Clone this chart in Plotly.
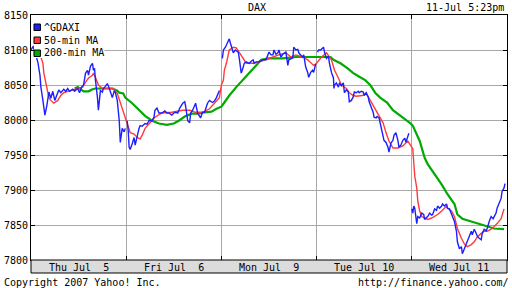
import math
import plotly.graph_objects as go

# x is measured in trading days (0 = Thu Jul 5 open, 5 = Wed Jul 11 close)
day_labels = ["Thu Jul\u00a0\u00a05", "Fri Jul\u00a0\u00a06", "Mon Jul\u00a0\u00a09", "Tue Jul 10", "Wed Jul 11"]
y_ticks = [7800, 7850, 7900, 7950, 8000, 8050, 8100, 8150]

blue_t = [0.000, 0.021, 0.042, 0.073, 0.094, 0.104, 0.125, 0.146, 0.167, 0.177, 0.188, 0.208, 0.229, 0.250,
          0.271, 0.292, 0.313, 0.344, 0.365, 0.385, 0.406, 0.438, 0.458, 0.490, 0.510, 0.531, 0.552, 0.573,
          0.594, 0.604, 0.625, 0.646, 0.656, 0.667, 0.677, 0.688, 0.698, 0.708, 0.719, 0.729, 0.750, 0.760,
          0.781, 0.802, 0.823, 0.833, 0.854, 0.875, 0.885, 0.906, 0.917, 0.927, 0.938, 0.948, 0.958, 0.979,
          0.990,
          1.010, 1.021, 1.031, 1.042, 1.063, 1.083, 1.094, 1.115, 1.135, 1.146, 1.167, 1.198, 1.219, 1.240,
          1.271, 1.292, 1.302, 1.323, 1.344, 1.375, 1.406, 1.427, 1.448, 1.479, 1.510, 1.542, 1.563, 1.594,
          1.615, 1.625, 1.646, 1.667, 1.677, 1.698, 1.719, 1.729, 1.750, 1.771, 1.781, 1.802, 1.823, 1.854,
          1.875, 1.906, 1.927, 1.948, 1.969, 1.979,
          2.010, 2.021, 2.042, 2.052, 2.073, 2.083, 2.094, 2.104, 2.125, 2.146, 2.177, 2.188, 2.198, 2.208,
          2.219, 2.240, 2.260, 2.292, 2.313, 2.333, 2.344, 2.365, 2.396, 2.417, 2.438, 2.469, 2.490, 2.500,
          2.521, 2.542, 2.552, 2.573, 2.594, 2.604, 2.625, 2.646, 2.677, 2.698, 2.708, 2.729, 2.750, 2.760,
          2.781, 2.802, 2.813, 2.833, 2.854, 2.865, 2.885, 2.906, 2.917, 2.938, 2.958, 2.969, 2.990,
          3.010, 3.021, 3.042, 3.063, 3.073, 3.083, 3.104, 3.125, 3.135, 3.156, 3.177, 3.182, 3.188, 3.208,
          3.229, 3.240, 3.260, 3.281, 3.292, 3.313, 3.333, 3.344, 3.365, 3.385, 3.396, 3.417, 3.438, 3.448,
          3.469, 3.490, 3.500, 3.521, 3.542, 3.552, 3.573, 3.594, 3.604, 3.625, 3.635, 3.656, 3.677, 3.698,
          3.708, 3.729, 3.750, 3.760, 3.771, 3.781, 3.802, 3.813, 3.833, 3.844, 3.854, 3.865, 3.885, 3.906,
          3.927, 3.938, 3.958, 3.969,
          4.000, 4.010, 4.021, 4.031, 4.052, 4.063, 4.083, 4.104, 4.125, 4.135, 4.156, 4.167, 4.188, 4.208,
          4.219, 4.240, 4.260, 4.271, 4.292, 4.313, 4.323, 4.344, 4.365, 4.375, 4.396, 4.417, 4.427, 4.448,
          4.469, 4.479, 4.490, 4.500, 4.521, 4.531, 4.552, 4.573, 4.583, 4.604, 4.625, 4.635, 4.656, 4.677,
          4.688, 4.708, 4.729, 4.740, 4.760, 4.781, 4.792, 4.813, 4.833, 4.854, 4.865, 4.885, 4.896, 4.917,
          4.938, 4.948, 4.969, 4.979]
blue_v = [8100, 8105, 8097, 8082, 8064, 8047, 8028, 8007, 8021, 8028, 8040, 8031, 8041, 8028,
          8037, 8043, 8039, 8044, 8041, 8045, 8041, 8044, 8041, 8045, 8039, 8047, 8050, 8067,
          8071, 8064, 8077, 8081, 8071, 8074, 8057, 8045, 8032, 8014, 8028, 8042, 8040, 8045,
          8048, 8052, 8045, 8040, 8032, 8042, 8040, 8028, 8014, 7999, 7968, 7978, 7988, 7983,
          7988,
          7999, 7985, 7961, 7958, 7966, 7975, 7964, 7978, 7988, 7992, 7991, 7995, 7994, 7999,
          7999, 8004, 8014, 8017, 8010, 8010, 8013, 8010, 8010, 8007, 8011, 8010, 8017, 8024,
          8026, 8019, 7999, 7996, 8010, 8014, 8020, 8024, 8010, 8004, 8003, 8011, 8011, 8024,
          8028, 8025, 8027, 8032, 8039, 8042,
          8088, 8100, 8104, 8107, 8112, 8116, 8110, 8104, 8096, 8100, 8097, 8088, 8074, 8067,
          8071, 8081, 8083, 8081, 8084, 8086, 8081, 8083, 8083, 8084, 8086, 8086, 8096, 8097,
          8093, 8093, 8100, 8094, 8096, 8100, 8090, 8094, 8097, 8078, 8086, 8087, 8089, 8104,
          8100, 8101, 8096, 8093, 8090, 8093, 8076, 8068, 8061, 8068, 8071, 8068, 8080,
          8097, 8100, 8100, 8103, 8104, 8097, 8088, 8091, 8081, 8068, 8060, 8045, 8050, 8053,
          8047, 8053, 8049, 8053, 8039, 8043, 8040, 8026, 8028, 8033, 8040, 8039, 8041, 8039,
          8041, 8040, 8035, 8039, 8033, 8026, 8018, 8011, 8004, 8003, 8005, 8003, 7990, 7978,
          7971, 7968, 7961, 7954, 7960, 7967, 7971, 7978, 7982, 7977, 7971, 7961, 7964, 7971,
          7974, 7968, 7978, 7981,
          7873, 7867, 7877, 7874, 7852, 7862, 7860, 7867, 7865, 7858, 7861, 7862, 7867, 7864,
          7865, 7873, 7871, 7877, 7874, 7877, 7880, 7877, 7880, 7874, 7873, 7867, 7862, 7855,
          7841, 7826, 7819, 7816, 7819, 7809, 7816, 7823, 7829, 7834, 7841, 7836, 7844, 7838,
          7834, 7831, 7829, 7838, 7844, 7842, 7845, 7855, 7862, 7859, 7862, 7867, 7874, 7880,
          7888, 7898, 7903, 7909]

ma50_t = [0.021, 0.063, 0.104, 0.125, 0.135, 0.156, 0.177, 0.188, 0.208, 0.240, 0.281, 0.313, 0.344, 0.417,
          0.490, 0.542, 0.573, 0.604, 0.646, 0.656, 0.677, 0.708, 0.750, 0.802, 0.865, 0.906, 0.938, 0.969,
          0.990, 1.010, 1.031, 1.042, 1.083, 1.115, 1.146, 1.167, 1.198, 1.240, 1.271, 1.302, 1.375, 1.479,
          1.594, 1.667, 1.729, 1.802, 1.875, 1.938, 1.979, 2.000, 2.021, 2.031, 2.052, 2.083, 2.125, 2.156,
          2.188, 2.229, 2.260, 2.333, 2.396, 2.469, 2.542, 2.604, 2.677, 2.729, 2.781, 2.854, 2.906, 2.969,
          3.000, 3.052, 3.104, 3.156, 3.188, 3.229, 3.260, 3.313, 3.344, 3.385, 3.417, 3.479, 3.521, 3.552,
          3.604, 3.656, 3.698, 3.729, 3.760, 3.802, 3.854, 3.906, 3.958, 4.010, 4.021, 4.031, 4.052, 4.063,
          4.083, 4.104, 4.135, 4.167, 4.208, 4.240, 4.271, 4.313, 4.344, 4.365, 4.375, 4.417, 4.448, 4.479,
          4.521, 4.552, 4.583, 4.625, 4.656, 4.688, 4.729, 4.760, 4.792, 4.833, 4.865, 4.896, 4.938, 4.969]
ma50_v = [8106, 8100, 8090, 8081, 8067, 8052, 8042, 8032, 8028, 8024, 8028, 8035, 8039, 8042,
          8044, 8047, 8054, 8060, 8064, 8067, 8061, 8050, 8045, 8045, 8045, 8038, 8025, 8014,
          8004, 7996, 7989, 7982, 7980, 7975, 7973, 7978, 7988, 7995, 7999, 8004, 8010, 8011,
          8014, 8014, 8011, 8011, 8016, 8025, 8032, 8050, 8057, 8071, 8081, 8100, 8104, 8103,
          8097, 8088, 8081, 8081, 8083, 8086, 8090, 8093, 8096, 8090, 8093, 8090, 8086, 8078,
          8081, 8090, 8096, 8086, 8071, 8060, 8050, 8045, 8039, 8035, 8034, 8035, 8038, 8031,
          8018, 8006, 7996, 7982, 7970, 7960, 7960, 7963, 7970, 7959, 7934, 7920, 7903, 7884,
          7870, 7862, 7860, 7858, 7860, 7862, 7865, 7870, 7874, 7877, 7874, 7870, 7862, 7845,
          7831, 7823, 7819, 7822, 7826, 7833, 7838, 7841, 7841, 7844, 7848, 7852, 7859, 7873]

ma200_t = [0.458, 0.490, 0.521, 0.552, 0.604, 0.646, 0.677, 0.760, 0.854, 0.906, 0.927, 0.969, 0.990, 1.063,
           1.135, 1.198, 1.271, 1.344, 1.427, 1.500, 1.552, 1.615, 1.688, 1.760, 1.823, 1.896, 1.948, 2.000,
           2.031, 2.083, 2.156, 2.229, 2.292, 2.365, 2.417, 2.500, 2.646, 2.781, 2.958, 3.063, 3.146, 3.177,
           3.250, 3.323, 3.385, 3.458, 3.510, 3.563, 3.615, 3.667, 3.740, 3.802, 3.875, 3.948, 3.979, 4.010,
           4.083, 4.135, 4.167, 4.240, 4.313, 4.375, 4.448, 4.479, 4.531, 4.625, 4.729, 4.792, 4.865, 4.969]
ma200_v = [8045, 8047, 8044, 8041, 8041, 8044, 8045, 8045, 8045, 8042, 8039, 8038, 8032, 8024,
           8014, 8006, 7999, 7995, 7993, 7995, 7999, 8005, 8009, 8009, 8011, 8012, 8016, 8019,
           8025, 8035, 8047, 8057, 8067, 8078, 8086, 8088, 8088, 8090, 8090, 8090, 8090, 8086,
           8081, 8074, 8067, 8061, 8057, 8050, 8039, 8032, 8025, 8014, 8006, 7999, 7996, 7992,
           7970, 7946, 7937, 7923, 7908, 7894, 7880, 7865, 7859, 7855, 7851, 7848, 7845, 7844]

series_names = ["^GDAXI", "50-min MA", "200-min MA"]
series_colors = ["#1e1eff", "#ff3a3a", "#00aa00"]


def split_days(ts, vs):
    """Insert a break between trading sessions."""
    xo, yo = [], []
    prev_day = None
    for t, v in zip(ts, vs):
        d = math.floor(t + 1e-9)
        if prev_day is not None and d != prev_day:
            xo.append(None)
            yo.append(None)
        xo.append(t)
        yo.append(v)
        prev_day = d
    return xo, yo


bx, by = split_days(blue_t, blue_v)

fig = go.Figure()
fig.add_trace(go.Scatter(x=ma200_t, y=ma200_v, mode="lines", name=series_names[2],
                         line=dict(color=series_colors[2], width=2.2), showlegend=False))
fig.add_trace(go.Scatter(x=ma50_t, y=ma50_v, mode="lines", name=series_names[1],
                         line=dict(color=series_colors[1], width=1.4), showlegend=False))
fig.add_trace(go.Scatter(x=bx, y=by, mode="lines", name=series_names[0], connectgaps=False,
                         line=dict(color=series_colors[0], width=1.4), showlegend=False))

W, H = 512, 288
L, R, T, B = 28, 4, 15, 28
PW, PH = W - L - R, H - T - B


def px_x(p):
    return (p - L) / PW


def px_y(p):
    return (H - B - p) / PH


FONT = "DejaVu Sans Mono, Liberation Mono, monospace"

shapes = [
    # date band under the plot
    dict(type="rect", xref="paper", yref="paper", x0=0, x1=1, y0=px_y(273), y1=0,
         fillcolor="#dcdcdc", line=dict(color="black", width=1), layer="above"),
    # legend background
    dict(type="rect", xref="paper", yref="paper", x0=px_x(31), x1=px_x(102), y0=px_y(58), y1=px_y(16.5),
         fillcolor="white", line=dict(width=0), layer="above"),
]
annotations = []
legend_rows = [27, 40, 53]
for name, color, cy in zip(series_names, series_colors, legend_rows):
    shapes.append(dict(type="rect", xref="paper", yref="paper", x0=px_x(31), x1=px_x(37.5),
                       y0=px_y(cy + 3.5), y1=px_y(cy - 3), fillcolor=color,
                       line=dict(color="black", width=1), layer="above"))
    annotations.append(dict(text=name, xref="paper", yref="paper", x=px_x(39.5), y=px_y(cy),
                            xanchor="left", yanchor="middle", showarrow=False,
                            font=dict(family=FONT, size=10, color="black")))

for i, lab in enumerate(day_labels):
    annotations.append(dict(text=lab, xref="x", yref="paper", x=i + 0.5, y=px_y(267),
                            xanchor="center", yanchor="middle", showarrow=False,
                            font=dict(family=FONT, size=10, color="black")))

annotations += [
    dict(text="DAX", xref="paper", yref="paper", x=px_x(256), y=px_y(7), xanchor="center",
         yanchor="middle", showarrow=False, font=dict(family=FONT, size=10, color="black")),
    dict(text="11-Jul 5:23pm", xref="paper", yref="paper", x=px_x(507), y=px_y(7), xanchor="right",
         yanchor="middle", showarrow=False, font=dict(family=FONT, size=10, color="black")),
    dict(text="Copyright 2007 Yahoo! Inc.", xref="paper", yref="paper", x=px_x(-1), y=px_y(282),
         xanchor="left", yanchor="middle", showarrow=False, font=dict(family=FONT, size=10, color="black")),
    dict(text="http://finance.yahoo.com/", xref="paper", yref="paper", x=px_x(512), y=px_y(282),
         xanchor="right", yanchor="middle", showarrow=False, font=dict(family=FONT, size=10, color="black")),
]

fig.update_layout(
    width=W, height=H,
    margin=dict(l=L, r=R, t=T, b=B, pad=0),
    paper_bgcolor="white", plot_bgcolor="white",
    showlegend=False,
    shapes=shapes, annotations=annotations,
    font=dict(family=FONT, size=10, color="black"),
    xaxis=dict(range=[0, 5], tickvals=[1, 2, 3, 4], showticklabels=False, showgrid=True,
               gridcolor="#a8a8a8", gridwidth=1, ticks="inside", ticklen=4, tickcolor="black",
               showline=True, linecolor="black", linewidth=1, mirror="ticks", zeroline=False,
               fixedrange=True),
    yaxis=dict(range=[7800, 8150], tickvals=y_ticks, ticktext=[str(v) for v in y_ticks],
               showgrid=True, gridcolor="#a8a8a8", gridwidth=1, ticks="inside", ticklen=4,
               tickcolor="black", showline=True, linecolor="black", linewidth=1, mirror="ticks",
               zeroline=False, tickfont=dict(family=FONT, size=10), fixedrange=True),
)

fig.write_html("out.html")
